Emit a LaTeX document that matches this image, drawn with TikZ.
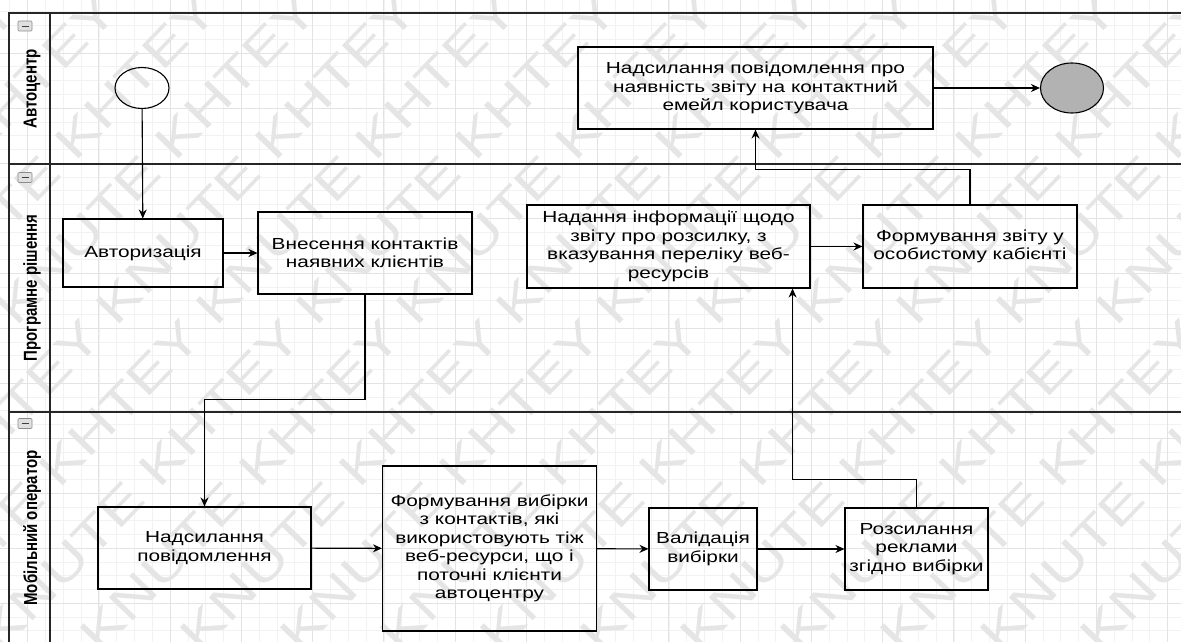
\documentclass[tikz,border=0pt]{standalone}
\usepackage{fontspec}
\usepackage{graphicx}
\setmainfont{Liberation Sans}[FakeStretch=1.3]
\newfontfamily\lanefont{Liberation Sans}
\usetikzlibrary{arrows.meta,shapes.geometric}

\begin{document}
\begin{tikzpicture}[x=1pt,y=-1pt,line width=1.1pt,>={Stealth[length=9pt,width=8pt]},
  task/.style={draw,line width=1.1pt,align=center,inner sep=2pt,font=\fontsize{16}{18.5}\selectfont},
  event/.style={ellipse,draw,line width=1.1pt,inner sep=0pt},
  flow/.style={->,line width=1.1pt},
  lane/.style={line width=1.3pt,draw=black!85},
  lanetext/.style={rotate=90,inner sep=0pt,font=\lanefont\bfseries\fontsize{15}{15}\selectfont},
  minorgrid/.style={line width=0.5pt,draw=black!5},
  majorgrid/.style={line width=0.7pt,draw=black!11},
  wmark/.style={text=black!10,font=\fontsize{48}{48}\selectfont,rotate=46,inner sep=0pt},
  fold/.style={draw=black!45,fill=black!12,rounded corners=1pt,line width=0.6pt,
    minimum width=14pt,minimum height=10pt,inner sep=0pt}]
\fill[white] (0,0) rectangle (1181,642);
\useasboundingbox (0,0) rectangle (1181,642);
% ================ 背景：网格与水印 ================
\foreach \k in {-2,...,65}{\draw[minorgrid] (27.5+\k*17.8125,0) -- (27.5+\k*17.8125,642);}
\foreach \k in {-4,...,43}{\draw[minorgrid] (0,53+\k*13.75) -- (1181,53+\k*13.75);}
\foreach \k in {-1,...,16}{\draw[majorgrid] (27.5+\k*71.25,0) -- (27.5+\k*71.25,642);}
\foreach \k in {-1,...,11}{\draw[majorgrid] (0,53+\k*55) -- (1181,53+\k*55);}
\begin{scope}
\clip (0,0) rectangle (1181,642);
\foreach \i in {-4,...,15}{\node[wmark] (wm\i) at (\i*100,321) {KHTEY KNUTE KHTEY KNUTE KHTEY KNUTE};}
\end{scope}
% ================ 泳道 ================
\draw[lane] (1181,13) -- (9,13) -- (9,642);
\draw[lane] (50,13) -- (50,642);
\draw[lane] (9,164) -- (1181,164);
\draw[lane] (9,412) -- (1181,412);
\node[lanetext] (laneA) at (32,89) {\scalebox{1}[1.25]{Автоцентр}};
\node[lanetext] (laneB) at (32,288) {\scalebox{1}[1.25]{Програмне рішення}};
\node[lanetext] (laneC) at (32,528) {\scalebox{1}[1.25]{Мобільний оператор}};
% 折叠按钮
\foreach \n/\y in {A/26,B/177.5,C/423.5}{
  \node[fold] (fold\n) at (25,\y) {};
  \draw[line width=0.9pt,black!75] ([xshift=-3.5pt]fold\n.center) -- ([xshift=3.5pt]fold\n.center);
}
% ================ 上：Автоцентр ================
\node[event,minimum width=54pt,minimum height=41pt] (start) at (142,88) {};
\node[task,minimum width=355pt,minimum height=82pt] (msg) at (755.5,88)
  {Надсилання повідомлення про\\наявність звіту на контактний\\емейл користувача};
\node[event,fill=black!30,minimum width=63pt,minimum height=50pt] (end) at (1072,88) {};
% ================ 中：Програмне рішення ================
\node[task,minimum width=160pt,minimum height=68pt] (auth) at (143,253) {Авторизація};
\node[task,minimum width=214pt,minimum height=82pt] (contacts) at (365,253)
  {Внесення контактів\\наявних клієнтів};
\node[task,minimum width=283pt,minimum height=83pt] (info) at (668.5,246.5)
  {Надання інформації щодо\\звіту про розсилку, з\\вказування переліку веб-\\ресурсів};
\node[task,minimum width=214pt,minimum height=83pt] (report) at (970,246.5)
  {Формування звіту у\\особистому кабієнті};
% ================ 下：Мобільний оператор ================
\node[task,minimum width=213pt,minimum height=82pt] (notify) at (204.5,548)
  {Надсилання\\повідомлення};
\node[task,minimum width=214pt,minimum height=165pt] (sample) at (489.5,548.5)
  {Формування вибірки\\з контактів, які\\використовують тіж\\веб-ресурси, що і\\поточні клієнти\\автоцентру};
\node[task,minimum width=108pt,minimum height=82pt] (valid) at (703,549)
  {Валідація\\вибірки};
\node[task,minimum width=143pt,minimum height=82pt] (mailing) at (916.5,549)
  {Розсилання\\реклами\\згідно вибірки};
% ================ 连线 ================
\draw[flow] (start) -- (auth);
\draw[flow] (auth) -- (contacts);
\draw[flow] (contacts.south) -- ++(0,105) -| (notify.north);
\draw[flow] (notify) -- (sample);
\draw[flow] (sample) -- (valid);
\draw[flow] (valid) -- (mailing);
\draw[flow] (mailing.north) -- ++(0,-28) -| ([xshift=-18pt]info.south east);
\draw[flow] (info) -- (report);
\draw[flow] (report.north) -- ++(0,-35) -| (msg.south);
\draw[flow] (msg) -- (end);
\end{tikzpicture}
\end{document}
